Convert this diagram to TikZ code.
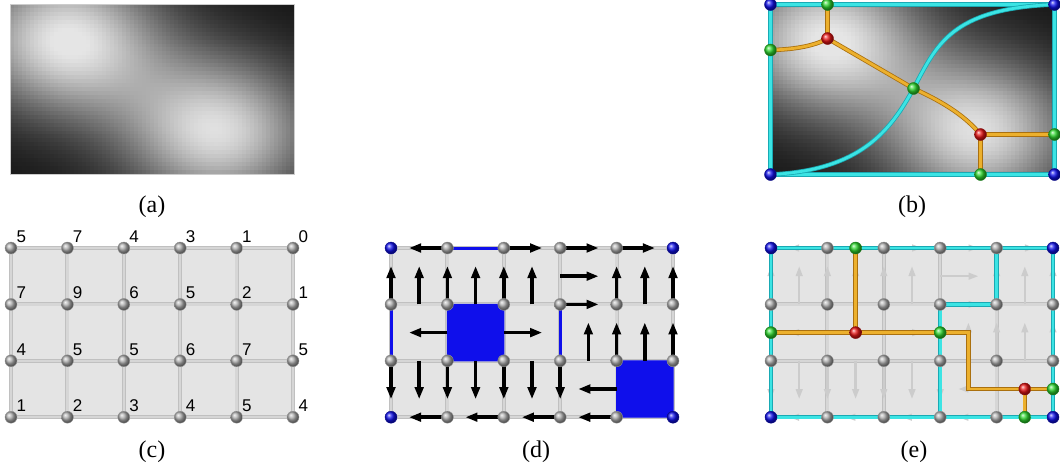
\documentclass[tikz,border=0pt]{standalone}
\usepackage{fontspec}
\setmainfont{Liberation Serif}
\newfontfamily\numfont{Liberation Sans}
\usetikzlibrary{arrows.meta}

\definecolor{cellgray}{RGB}{228,228,228}
\definecolor{gridedge}{RGB}{192,192,192}
\definecolor{gridmid}{RGB}{214,214,214}
\definecolor{sepcyan}{RGB}{60,228,228}
\definecolor{sepcyandk}{RGB}{25,170,180}
\definecolor{ridgeor}{RGB}{236,176,45}
\definecolor{ridgeordk}{RGB}{170,112,15}
\definecolor{maxred}{RGB}{232,20,20}
\definecolor{sadgreen}{RGB}{45,215,45}
\definecolor{minblue}{RGB}{15,15,235}

\newcommand{\heightfield}{%
  \foreach \i in {0,...,70}{
    \foreach \j in {0,...,42}{
      \pgfmathsetmacro\px{(\i+0.5)*4}
      \pgfmathsetmacro\py{(\j+0.5)*170/43}
      \pgfmathsetmacro\ua{(\px-56)/70}
      \pgfmathsetmacro\va{(\py-36)/55}
      \pgfmathsetmacro\ub{(\px-208)/70}
      \pgfmathsetmacro\vb{(\py-128)/55}
      \pgfmathsetmacro\f{min(1,exp(-0.5*(\ua*\ua+\va*\va))+0.95*exp(-0.5*(\ub*\ub+\vb*\vb)))}
      \pgfmathsetmacro\br{8+82*\f^1.15}
      \fill[white!\br!black] (\i*4,\j*170/43) rectangle ++(4.4,4.4);
    }
  }%
}

\newcommand{\meshgrid}[1]{%
  \foreach \i in {0,...,5}
    \foreach \j in {0,...,3}
      \coordinate (#1-\i-\j) at (\i,\j);
  \fill[cellarea] (#1-0-0) rectangle (#1-5-3);
  \foreach \i in {0,...,5}
    \draw[gridline] (#1-\i-0) -- (#1-\i-3);
  \foreach \j in {0,...,3}
    \draw[gridline] (#1-0-\j) -- (#1-5-\j);
}

\newcommand{\meshballs}[1]{%
  \foreach \i in {0,...,5}
    \foreach \j in {0,...,3}{
      \pgfmathtruncatemacro\corner{and(or(\i==0,\i==5),or(\j==0,\j==3))}
      \ifnum\corner=1 \node[cornerball] (#1v-\i-\j) at (#1-\i-\j) {};
      \else \node[vball] (#1v-\i-\j) at (#1-\i-\j) {};
      \fi
    }%
}

\newcommand{\gradpairs}[1]{%
  \foreach \xa/\ya/\xb/\yb in {1/0/0.32/0, 2/0/2.68/0, 3/0/3.68/0, 4/0/4.68/0,
      3/0.5/3.68/0.5, 3/1/3.68/1, 1/1.5/0.32/1.5, 2/1.5/2.68/1.5, 4/2.5/3.32/2.5,
      1/3/0.32/3, 2/3/1.32/3, 3/3/2.32/3, 4/3/3.32/3}
    \draw[#1] (\xa,\ya) -- (\xb,\yb);
  \foreach \x in {0,0.5,1,1.5,2,2.5,4,4.5,5}
    \draw[#1] (\x,1) -- (\x,0.32);
  \foreach \x in {3.5,4,4.5,5}
    \draw[#1] (\x,2) -- (\x,1.32);
  \foreach \x in {0,0.5,1,1.5,2,2.5,3}
    \draw[#1] (\x,2) -- (\x,2.68);
}

\begin{document}
\begin{tikzpicture}[
  x=1pt, y=-1pt,
  caption/.style={font=\fontsize{24}{28}\selectfont, inner sep=0pt},
  numlabel/.style={font=\numfont\fontsize{17}{19}\selectfont, inner sep=1pt},
  vball/.style={circle, inner sep=0pt, minimum size=12pt, shading=ball, ball color=gray!65, draw=black!40, line width=0.4pt},
  cornerball/.style={vball, ball color=minblue, draw=minblue!60!black},
  maxball/.style={vball, ball color=maxred, draw=maxred!60!black},
  sadball/.style={vball, ball color=sadgreen, draw=sadgreen!60!black},
  cellarea/.style={fill=cellgray},
  gridline/.style={draw=gridedge, double=gridmid, double distance=2.4pt, line width=0.8pt},
  gradarrow/.style={-{Triangle[length=12pt,width=8.5pt]}, line width=3.6pt, black},
  fadedarrow/.style={-{Triangle[length=10pt,width=6.5pt]}, line width=2.4pt, black!20},
  minsq/.style={fill=minblue, draw=minblue, line width=1pt, rounded corners=1.5pt},
  minedge/.style={draw=minblue, line width=3pt},
  sepline/.style={draw=sepcyandk, double=sepcyan, double distance=2.8pt, line width=0.8pt},
  ridge/.style={draw=ridgeordk, double=ridgeor, double distance=2.8pt, line width=0.8pt}
]
\useasboundingbox (0,0) rectangle (1060,466);

% (a) scalar field
\begin{scope}[shift={(10,4)}]
  \begin{scope}
    \clip (0,0) rectangle (284,170);
    \heightfield
  \end{scope}
  \draw[black!20, line width=0.5pt] (0,0) rectangle (284,170);
\end{scope}

% (b) Morse-Smale complex on the field
\begin{scope}[shift={(770.5,4.5)}]
  \begin{scope}
    \clip (0,0) rectangle (284,170);
    \heightfield
  \end{scope}
  \coordinate (b-tl) at (0,0);
  \coordinate (b-tr) at (284,0);
  \coordinate (b-bl) at (0,170);
  \coordinate (b-br) at (284,170);
  \coordinate (b-gt) at (57,0);
  \coordinate (b-gl) at (0,45.5);
  \coordinate (b-m1) at (57,34);
  \coordinate (b-s) at (143,84);
  \coordinate (b-m2) at (210,130);
  \coordinate (b-gr) at (284,130);
  \coordinate (b-gb) at (210,170);
  \draw[sepline] (b-tl) rectangle (b-br);
  \draw[sepline] (b-bl) .. controls (90,166) and (120,126) .. (b-s) .. controls (166,41) and (180,4) .. (b-tr);
  \draw[ridge] (b-gl) .. controls (25,45) and (45,41) .. (b-m1) -- (b-s) .. controls (176,99) and (196,113) .. (b-m2);
  \draw[ridge] (b-gt) -- (b-m1);
  \draw[ridge] (b-m2) -- (b-gr);
  \draw[ridge] (b-m2) -- (b-gb);
  \foreach \p in {tl,tr,bl,br}
    \node[cornerball] (b-\p-ball) at (b-\p) {};
  \foreach \p in {gt,gl,s,gr,gb}
    \node[sadball] (b-\p-ball) at (b-\p) {};
  \foreach \p in {m1,m2}
    \node[maxball] (b-\p-ball) at (b-\p) {};
\end{scope}

% (c) sampled values
\begin{scope}[shift={(11,248)}, x=56.4pt, y=-56.4pt]
  \meshgrid{c}
  \foreach \row [count=\j from 0] in {{5,7,4,3,1,0},{7,9,6,5,2,1},{4,5,5,6,7,5},{1,2,3,4,5,4}}
    \foreach \val [count=\i from 0] in \row
      \node[vball, label={[numlabel]45:\val}] (cv-\i-\j) at (c-\i-\j) {};
\end{scope}

% (d) discrete gradient
\begin{scope}[shift={(391,248)}, x=56.4pt, y=-56.4pt]
  \meshgrid{d}
  \filldraw[minsq] (d-1-1) rectangle (d-2-2);
  \filldraw[minsq] (d-4-2) rectangle (d-5-3);
  \draw[minedge] (d-1-0) -- (d-2-0);
  \draw[minedge] (d-0-1) -- (d-0-2);
  \draw[minedge] (d-3-1) -- (d-3-2);
  \gradpairs{gradarrow}
  \meshballs{d}
\end{scope}

% (e) combinatorial complex
\begin{scope}[shift={(771,248)}, x=56.4pt, y=-56.4pt]
  \meshgrid{e}
  \gradpairs{fadedarrow}
  \coordinate (e-gt) at (1.5,0);
  \coordinate (e-gl) at (0,1.5);
  \coordinate (e-m1) at (1.5,1.5);
  \coordinate (e-s) at (3,1.5);
  \coordinate (e-k) at (3.5,2);
  \coordinate (e-m2) at (4.5,2.5);
  \coordinate (e-gr) at (5,2.5);
  \coordinate (e-gb) at (4.5,3);
  \draw[sepline] (e-0-0) rectangle (e-5-3);
  \draw[sepline] (e-4-0) -- (e-4-1) -- (e-3-1) -- (e-3-3);
  \draw[ridge] (e-gt) -- (e-m1);
  \draw[ridge] (e-gl) -- (e-m1) -- (e-s) -| (e-k) |- (e-m2) -- (e-gr);
  \draw[ridge] (e-m2) -- (e-gb);
  \meshballs{e}
  \foreach \p in {gt,gl,s,gr,gb}
    \node[sadball] (e-\p-ball) at (e-\p) {};
  \foreach \p in {m1,m2}
    \node[maxball] (e-\p-ball) at (e-\p) {};
\end{scope}

\node[caption] (cap-a) at (152,207) {(a)};
\node[caption] (cap-b) at (912,207) {(b)};
\node[caption] (cap-c) at (152,452) {(c)};
\node[caption] (cap-d) at (536,452) {(d)};
\node[caption] (cap-e) at (914,452) {(e)};
\end{tikzpicture}
\end{document}
